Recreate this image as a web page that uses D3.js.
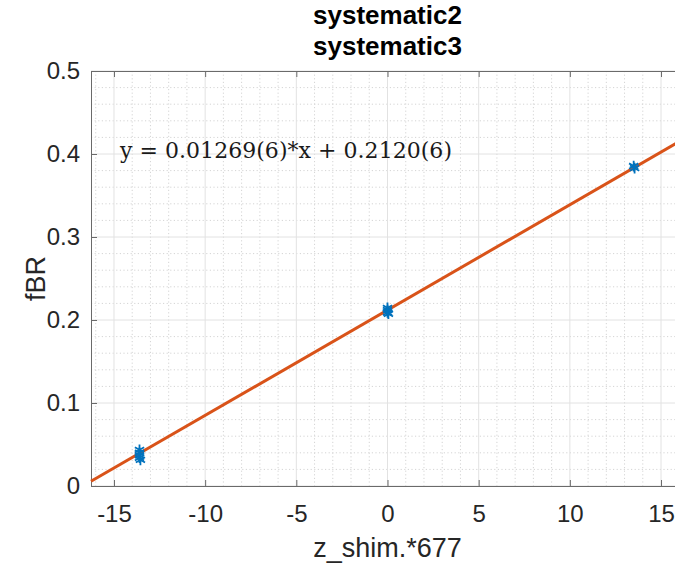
<!DOCTYPE html>
<html>
<head>
<meta charset="utf-8">
<script src="https://cdn.jsdelivr.net/npm/d3@7"></script>
<style>
  html, body { margin: 0; padding: 0; background: #fff; overflow: hidden; }
  svg { display: block; font-family: "Liberation Sans", Arial, sans-serif; }
</style>
</head>
<body>
<svg id="chart" width="675" height="567"></svg>
<script>
// measured points (z_shim.*677 vs fBR)
const pointX = [-13.6, -13.6, -13.6, -13.6, -13.55, 0, 0, 0, 0.05, 13.5, 13.55];
const pointY = [0.0435, 0.040, 0.037, 0.034, 0.0315, 0.2145, 0.212, 0.209, 0.2075, 0.3855, 0.3830];
// linear fit
const fitSlope = 0.01269;
const fitIntercept = 0.2120;
const fitLabel = 'y = 0.01269(6)*x + 0.2120(6)';
const xTicks = [-15, -10, -5, 0, 5, 10, 15];
const yTicks = [0, 0.1, 0.2, 0.3, 0.4, 0.5];
const titleLines = ['systematic2', 'systematic3'];

const margin = { left: 91, top: 71, right: 684, bottom: 486 };
const svg = d3.select('#chart');

const x = d3.scaleLinear().domain([-16.26, 16.26]).range([margin.left, margin.right]);
const y = d3.scaleLinear().domain([0, 0.5]).range([margin.bottom, margin.top]);

const g = svg.append('g');

// minor grid (dotted)
const xMinor = d3.range(-16, 17, 1).filter(v => !xTicks.includes(v));
const yMinor = d3.range(0.02, 0.5, 0.02).filter(v => Math.abs(Math.round(v * 10) - v * 10) > 1e-6);
g.selectAll('line.xminor').data(xMinor).join('line')
  .attr('x1', d => x(d)).attr('x2', d => x(d))
  .attr('y1', margin.top).attr('y2', margin.bottom)
  .attr('stroke', '#d4d4d4').attr('stroke-dasharray', '1.2,2.4').attr('stroke-width', 1);
g.selectAll('line.yminor').data(yMinor).join('line')
  .attr('y1', d => y(d)).attr('y2', d => y(d))
  .attr('x1', margin.left).attr('x2', margin.right)
  .attr('stroke', '#d4d4d4').attr('stroke-dasharray', '1.2,2.4').attr('stroke-width', 1);

// major grid
g.selectAll('line.xmajor').data(xTicks).join('line')
  .attr('x1', d => x(d)).attr('x2', d => x(d))
  .attr('y1', margin.top).attr('y2', margin.bottom)
  .attr('stroke', '#e2e2e2').attr('stroke-width', 1);
g.selectAll('line.ymajor').data(yTicks).join('line')
  .attr('y1', d => y(d)).attr('y2', d => y(d))
  .attr('x1', margin.left).attr('x2', margin.right)
  .attr('stroke', '#e2e2e2').attr('stroke-width', 1);

// axes (ticks inside, box)
const axisColor = '#6a6a6a';
const xAxis = g.append('g').attr('transform', `translate(0,${margin.bottom})`)
  .call(d3.axisBottom(x).tickValues(xTicks).tickSizeInner(-6).tickSizeOuter(0).tickPadding(19)
    .tickFormat(d => String(d)));
const xTop = g.append('g').attr('transform', `translate(0,${margin.top})`)
  .call(d3.axisTop(x).tickValues(xTicks).tickSizeInner(-6).tickSizeOuter(0).tickFormat(''));
const yAxis = g.append('g').attr('transform', `translate(${margin.left},0)`)
  .call(d3.axisLeft(y).tickValues(yTicks).tickSizeInner(-6).tickSizeOuter(0).tickPadding(11)
    .tickFormat(d => d === 0 ? '0' : d3.format('.1f')(d)));
[xAxis, xTop, yAxis].forEach(a => {
  a.selectAll('path,line').attr('stroke', axisColor);
  a.selectAll('text').attr('fill', '#262626').attr('font-size', 24)
    .attr('font-family', '"Liberation Sans", Arial, sans-serif');
});

// fit line
const [x0, x1] = x.domain();
g.append('line')
  .attr('x1', x(x0)).attr('y1', y(fitSlope * x0 + fitIntercept))
  .attr('x2', x(x1)).attr('y2', y(fitSlope * x1 + fitIntercept))
  .attr('stroke', '#D95319').attr('stroke-width', 3);

// asterisk markers
const star = d3.symbol().type(d3.symbolAsterisk).size(80);
g.selectAll('path.pt').data(pointX.map((v, i) => [v, pointY[i]])).join('path')
  .attr('class', 'pt')
  .attr('transform', d => `translate(${x(d[0])},${y(d[1])})`)
  .attr('d', star)
  .attr('fill', 'none').attr('stroke', '#0072BD').attr('stroke-width', 1.8);

// fit equation
g.append('text')
  .attr('x', 120).attr('y', 158)
  .attr('font-family', '"DejaVu Serif", "Liberation Serif", serif')
  .attr('font-size', 22).attr('fill', '#1a1a1a')
  .attr('textLength', 332).attr('lengthAdjust', 'spacing')
  .text(fitLabel);

// titles and labels
svg.selectAll('text.title').data(titleLines).join('text')
  .attr('class', 'title')
  .attr('x', (margin.left + margin.right) / 2)
  .attr('y', (d, i) => 24 + i * 31)
  .attr('text-anchor', 'middle')
  .attr('font-size', 26).attr('font-weight', 'bold').attr('fill', '#000')
  .text(d => d);

svg.append('text')
  .attr('x', (margin.left + margin.right) / 2).attr('y', 557)
  .attr('text-anchor', 'middle').attr('font-size', 27).attr('fill', '#262626')
  .text('z_shim.*677');

svg.append('text')
  .attr('transform', `translate(45,${(margin.top + margin.bottom) / 2}) rotate(-90)`)
  .attr('text-anchor', 'middle').attr('font-size', 27).attr('fill', '#262626')
  .text('fBR');
</script>
</body>
</html>
